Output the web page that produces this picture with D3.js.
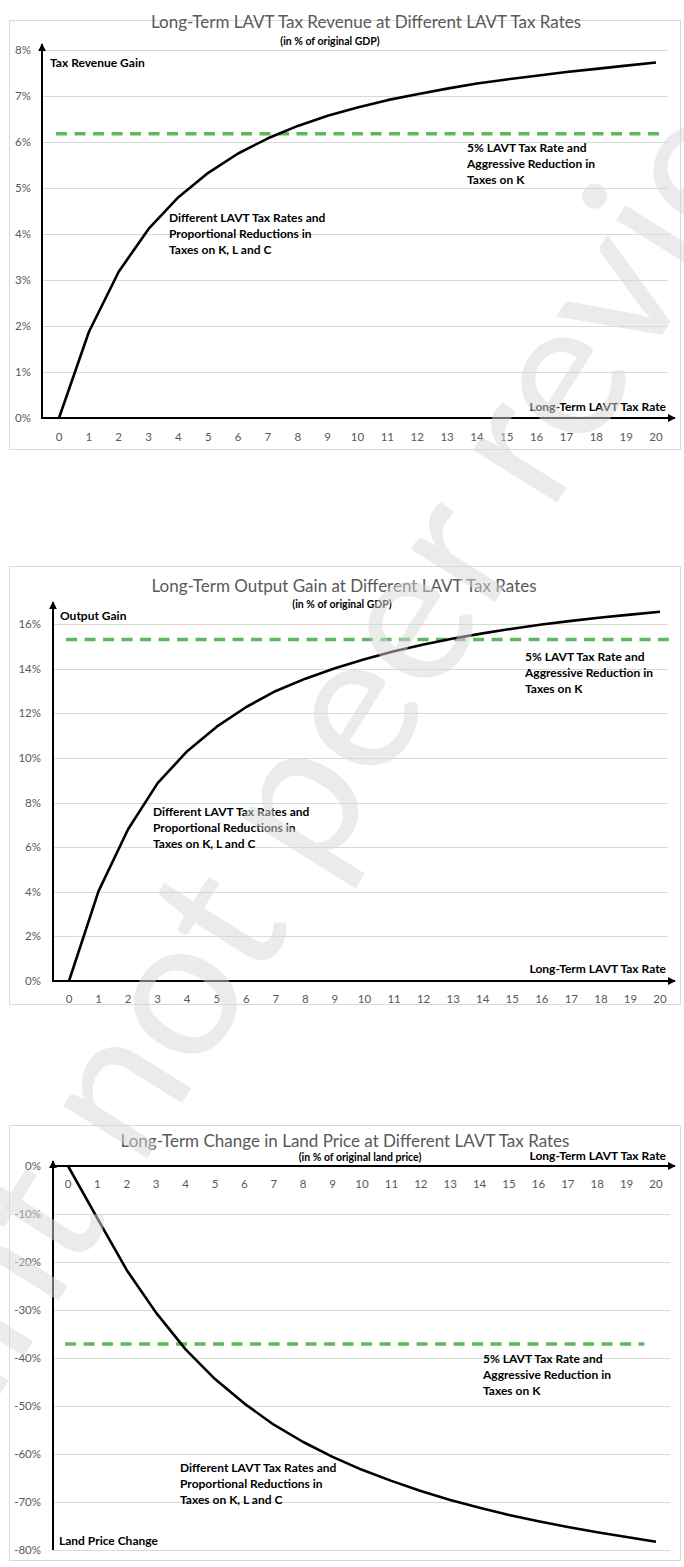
<!DOCTYPE html>
<html>
<head>
<meta charset="utf-8">
<script src="https://cdn.jsdelivr.net/npm/d3@7"></script>
<style>
  html, body { margin: 0; padding: 0; background: #fff; }
  svg { display: block; }
  text { font-family: Lato, "Open Sans", sans-serif; }
</style>
</head>
<body>
<svg id="chart" width="684" height="1567"></svg>
<script>
// ---------- DATA ----------
const taxRates = [0,1,2,3,4,5,6,7,8,9,10,11,12,13,14,15,16,17,18,19,20];

const revenueGain = [0, 1.87, 3.18, 4.11, 4.80, 5.33, 5.75, 6.08, 6.35, 6.57, 6.75, 6.91, 7.04, 7.16, 7.27, 7.36, 7.44, 7.52, 7.59, 7.66, 7.73];
const outputGain  = [0, 4.03, 6.80, 8.87, 10.30, 11.40, 12.28, 13.00, 13.55, 14.02, 14.42, 14.78, 15.08, 15.35, 15.58, 15.79, 15.98, 16.14, 16.29, 16.42, 16.55];
const landPriceChange = [0, -10.9, -21.7, -30.6, -38.2, -44.4, -49.5, -53.9, -57.5, -60.6, -63.3, -65.6, -67.7, -69.6, -71.2, -72.7, -74.0, -75.2, -76.3, -77.3, -78.3];

const aggressiveRevenue = 6.18;
const aggressiveOutput  = 15.3;
const aggressiveLand    = -37.1;

const revenueTicks = [0,1,2,3,4,5,6,7,8];
const outputTicks  = [0,2,4,6,8,10,12,14,16];
const landTicks    = [0,-10,-20,-30,-40,-50,-60,-70,-80];

const titles = [
  "Long-Term LAVT Tax Revenue at Different LAVT Tax Rates",
  "Long-Term Output Gain at Different LAVT Tax Rates",
  "Long-Term Change in Land Price at Different LAVT Tax Rates"
];
const subtitles = ["(in % of original GDP)", "(in % of original GDP)", "(in % of original land price)"];
const yAxisTitles = ["Tax Revenue Gain", "Output Gain", "Land Price Change"];
const xAxisTitle = "Long-Term LAVT Tax Rate";
const curveLabel = ["Different LAVT Tax Rates and", "Proportional Reductions in", "Taxes on K, L and C"];
const dashLabel  = ["5% LAVT Tax Rate and", "Aggressive Reduction in", "Taxes on K"];

// ---------- DRAWING ----------
const svg = d3.select("#chart");
const defs = svg.append("defs");
defs.append("marker").attr("id", "arrow")
  .attr("viewBox", "0 0 10 10").attr("refX", 9).attr("refY", 5)
  .attr("markerWidth", 4).attr("markerHeight", 4).attr("orient", "auto")
  .attr("markerUnits", "strokeWidth")
  .append("path").attr("d", "M0,0 L10,5 L0,10 z").attr("fill", "#000");

const charts = [
  { values: revenueGain, dash: aggressiveRevenue, ticks: revenueTicks, title: titles[0], subtitle: subtitles[0], yTitle: yAxisTitles[0],
    box: [9, 20, 680, 449], titleX: 366, titleY: 28, subX: 330, subY: 45,
    axisX: 42, xRange: [59, 656], gridRight: 668, yDomain: [0, 8], yRange: [418, 50], yAxisTop: 44,
    yLabelX: 31, xLabelY: 441, xAxisY: 418, xTitleY: 411, yTitleX: 50, yTitleY: 67,
    curveLbl: [169, 222], dashLbl: [467, 152], dashEnd: 20.2, fmt: d => d + "%" },
  { values: outputGain, dash: aggressiveOutput, ticks: outputTicks, title: titles[1], subtitle: subtitles[1], yTitle: yAxisTitles[1],
    box: [9, 566, 680, 1004], titleX: 344, titleY: 592, subX: 342, subY: 608,
    axisX: 53, xRange: [69, 660], gridRight: 668, yDomain: [0, 16], yRange: [981, 624], yAxisTop: 602,
    yLabelX: 41, xLabelY: 1003, xAxisY: 981, xTitleY: 973, yTitleX: 60, yTitleY: 620,
    curveLbl: [153, 816], dashLbl: [525, 661], dashEnd: 20.3, fmt: d => d + "%" },
  { values: landPriceChange, dash: aggressiveLand, ticks: landTicks, title: titles[2], subtitle: subtitles[2], yTitle: yAxisTitles[2],
    box: [9, 1125, 680, 1560], titleX: 345, titleY: 1147, subX: 360, subY: 1161,
    axisX: 53, xRange: [68, 656], gridRight: 670, yDomain: [0, -80], yRange: [1166, 1550], yAxisTop: 1161,
    yLabelX: 41, xLabelY: 1188, xAxisY: 1166, xTitleY: 1160, yTitleX: 59, yTitleY: 1545,
    curveLbl: [180, 1472], dashLbl: [483, 1363], dashEnd: 19.6, fmt: d => d + "%", inverted: true }
];

charts.forEach(c => {
  const g = svg.append("g");
  const [bx0, by0, bx1, by1] = c.box;
  g.append("rect").attr("x", bx0 + 0.5).attr("y", by0 + 0.5)
    .attr("width", bx1 - bx0).attr("height", by1 - by0)
    .attr("fill", "#fff").attr("stroke", "#d9d9d9").attr("stroke-width", 1);

  const x = d3.scaleLinear().domain([0, 20]).range(c.xRange);
  const y = d3.scaleLinear().domain(c.yDomain).range(c.yRange);

  // gridlines
  g.append("g").selectAll("line").data(c.ticks.filter(t => t !== 0)).join("line")
    .attr("x1", c.axisX).attr("x2", c.gridRight)
    .attr("y1", d => Math.round(y(d)) + 0.5).attr("y2", d => Math.round(y(d)) + 0.5)
    .attr("stroke", "#d9d9d9").attr("stroke-width", 1);

  // y tick labels
  g.append("g").selectAll("text").data(c.ticks).join("text")
    .attr("x", c.yLabelX).attr("y", d => y(d) + 4)
    .attr("text-anchor", "end").attr("font-size", 11.5).attr("fill", "#595959")
    .text(c.fmt);

  // x tick labels
  g.append("g").selectAll("text").data(taxRates).join("text")
    .attr("x", d => x(d)).attr("y", c.xLabelY)
    .attr("text-anchor", "middle").attr("font-size", 11.5).attr("fill", "#595959")
    .text(d => d);

  // dashed aggressive-reduction line
  g.append("line")
    .attr("x1", x(-0.1)).attr("x2", x(c.dashEnd))
    .attr("y1", y(c.dash)).attr("y2", y(c.dash))
    .attr("stroke", "#5cb85c").attr("stroke-width", 3.5)
    .attr("stroke-dasharray", "11,7.5");

  // curve
  const line = d3.line().x((d, i) => x(taxRates[i])).y(d => y(d));
  g.append("path").datum(c.values).attr("d", line)
    .attr("fill", "none").attr("stroke", "#000").attr("stroke-width", 2.6)
    .attr("stroke-linejoin", "round");

  // axes with arrows
  if (!c.inverted) {
    g.append("line").attr("x1", c.axisX).attr("x2", c.axisX)
      .attr("y1", c.xAxisY + 1).attr("y2", c.yAxisTop)
      .attr("stroke", "#000").attr("stroke-width", 2).attr("marker-end", "url(#arrow)");
  } else {
    g.append("line").attr("x1", c.axisX).attr("x2", c.axisX)
      .attr("y1", c.yRange[1]).attr("y2", c.yAxisTop)
      .attr("stroke", "#000").attr("stroke-width", 2).attr("marker-end", "url(#arrow)");
  }
  g.append("line").attr("x1", c.axisX - 1).attr("x2", 675)
    .attr("y1", c.xAxisY).attr("y2", c.xAxisY)
    .attr("stroke", "#000").attr("stroke-width", 2).attr("marker-end", "url(#arrow)");

  // titles
  g.append("text").attr("x", c.titleX).attr("y", c.titleY)
    .attr("text-anchor", "middle").attr("font-size", 17).attr("fill", "#595959")
    .text(c.title);
  g.append("text").attr("x", c.subX).attr("y", c.subY)
    .attr("text-anchor", "middle").attr("font-size", 10.5).attr("font-weight", 700).attr("fill", "#000")
    .text(c.subtitle);

  // axis titles
  g.append("text").attr("x", c.yTitleX).attr("y", c.yTitleY)
    .attr("font-size", 12).attr("font-weight", 700).attr("fill", "#000").text(c.yTitle);
  g.append("text").attr("x", 666).attr("y", c.xTitleY).attr("text-anchor", "end")
    .attr("font-size", 12).attr("font-weight", 700).attr("fill", "#000").text(xAxisTitle);

  // annotations
  const cl = g.append("text").attr("font-size", 12).attr("font-weight", 700).attr("fill", "#000");
  curveLabel.forEach((t, i) => cl.append("tspan").attr("x", c.curveLbl[0]).attr("y", c.curveLbl[1] + i * 15.8).text(t));
  const dl = g.append("text").attr("font-size", 12).attr("font-weight", 700).attr("fill", "#000");
  dashLabel.forEach((t, i) => dl.append("tspan").attr("x", c.dashLbl[0]).attr("y", c.dashLbl[1] + i * 15.8).text(t));
});

// ---------- WATERMARK ----------
const wm = svg.append("g").attr("transform", "translate(140,1170) rotate(-58)")
  .attr("opacity", 0.5);
wm.append("text").attr("x", 0).attr("y", 0)
  .attr("font-family", "Liberation Sans, Arial, sans-serif").attr("font-size", 196)
  .attr("fill", "#d8d8d8").text("not peer reviewed");
wm.append("text").attr("x", -55).attr("y", 0).attr("text-anchor", "end")
  .attr("font-family", "Liberation Sans, Arial, sans-serif").attr("font-size", 196)
  .attr("fill", "#d8d8d8").text("Preprint");
</script>
</body>
</html>
